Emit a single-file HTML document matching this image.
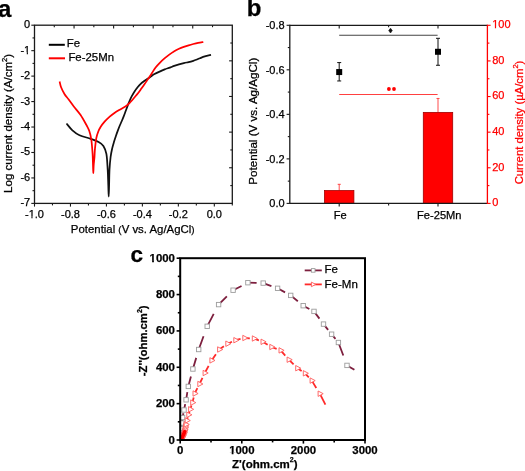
<!DOCTYPE html>
<html><head><meta charset="utf-8"><style>
html,body{margin:0;padding:0;background:#fff;}
body{width:525px;height:471px;overflow:hidden;}
svg{display:block;font-family:"Liberation Sans", sans-serif;will-change:transform;}
text{stroke-width:0.25px;}
</style></head><body>
<svg width="525" height="471" viewBox="0 0 525 471">
<rect width="525" height="471" fill="#fff"/>
<text x="-2.00" y="16.60" font-size="24" text-anchor="start" fill="#000" stroke="#000" font-weight="bold" >a</text>
<text x="246.80" y="16.40" font-size="24" text-anchor="start" fill="#000" stroke="#000" font-weight="bold" >b</text>
<text x="130.40" y="262.40" font-size="22.5" text-anchor="start" fill="#000" stroke="#000" font-weight="bold" >c</text>
<rect x="34.50" y="25.20" width="197.80" height="178.20" fill="none" stroke="#1a1a1a" stroke-width="1.3"/>
<line x1="34.50" y1="203.40" x2="34.50" y2="206.60" stroke="#1a1a1a" stroke-width="1.1" />
<text x="34.50" y="217.80" font-size="11" text-anchor="middle" fill="#000" stroke="#000" font-weight="normal" >-1.0</text>
<rect x="28.62" y="216.53" width="2.73" height="2.67" fill="#fff"/>
<rect x="32.57" y="216.53" width="2.64" height="2.67" fill="#fff"/>
<line x1="52.48" y1="203.40" x2="52.48" y2="205.40" stroke="#1a1a1a" stroke-width="1.1" />
<line x1="70.46" y1="203.40" x2="70.46" y2="206.60" stroke="#1a1a1a" stroke-width="1.1" />
<text x="70.46" y="217.80" font-size="11" text-anchor="middle" fill="#000" stroke="#000" font-weight="normal" >-0.8</text>
<line x1="88.45" y1="203.40" x2="88.45" y2="205.40" stroke="#1a1a1a" stroke-width="1.1" />
<line x1="106.43" y1="203.40" x2="106.43" y2="206.60" stroke="#1a1a1a" stroke-width="1.1" />
<text x="106.43" y="217.80" font-size="11" text-anchor="middle" fill="#000" stroke="#000" font-weight="normal" >-0.6</text>
<line x1="124.41" y1="203.40" x2="124.41" y2="205.40" stroke="#1a1a1a" stroke-width="1.1" />
<line x1="142.39" y1="203.40" x2="142.39" y2="206.60" stroke="#1a1a1a" stroke-width="1.1" />
<text x="142.39" y="217.80" font-size="11" text-anchor="middle" fill="#000" stroke="#000" font-weight="normal" >-0.4</text>
<line x1="160.37" y1="203.40" x2="160.37" y2="205.40" stroke="#1a1a1a" stroke-width="1.1" />
<line x1="178.35" y1="203.40" x2="178.35" y2="206.60" stroke="#1a1a1a" stroke-width="1.1" />
<text x="178.35" y="217.80" font-size="11" text-anchor="middle" fill="#000" stroke="#000" font-weight="normal" >-0.2</text>
<line x1="196.34" y1="203.40" x2="196.34" y2="205.40" stroke="#1a1a1a" stroke-width="1.1" />
<line x1="214.32" y1="203.40" x2="214.32" y2="206.60" stroke="#1a1a1a" stroke-width="1.1" />
<text x="214.32" y="217.80" font-size="11" text-anchor="middle" fill="#000" stroke="#000" font-weight="normal" >0.0</text>
<line x1="232.30" y1="203.40" x2="232.30" y2="205.40" stroke="#1a1a1a" stroke-width="1.1" />
<line x1="31.30" y1="25.20" x2="34.50" y2="25.20" stroke="#1a1a1a" stroke-width="1.1" />
<text x="30.20" y="28.20" font-size="11" text-anchor="end" fill="#000" stroke="#000" font-weight="normal" >0</text>
<line x1="32.50" y1="37.93" x2="34.50" y2="37.93" stroke="#1a1a1a" stroke-width="1.1" />
<line x1="31.30" y1="50.66" x2="34.50" y2="50.66" stroke="#1a1a1a" stroke-width="1.1" />
<text x="30.20" y="53.66" font-size="11" text-anchor="end" fill="#000" stroke="#000" font-weight="normal" >-1</text>
<rect x="24.02" y="52.39" width="2.73" height="2.67" fill="#fff"/>
<rect x="27.97" y="52.39" width="2.64" height="2.67" fill="#fff"/>
<line x1="32.50" y1="63.39" x2="34.50" y2="63.39" stroke="#1a1a1a" stroke-width="1.1" />
<line x1="31.30" y1="76.11" x2="34.50" y2="76.11" stroke="#1a1a1a" stroke-width="1.1" />
<text x="30.20" y="79.11" font-size="11" text-anchor="end" fill="#000" stroke="#000" font-weight="normal" >-2</text>
<line x1="32.50" y1="88.84" x2="34.50" y2="88.84" stroke="#1a1a1a" stroke-width="1.1" />
<line x1="31.30" y1="101.57" x2="34.50" y2="101.57" stroke="#1a1a1a" stroke-width="1.1" />
<text x="30.20" y="104.57" font-size="11" text-anchor="end" fill="#000" stroke="#000" font-weight="normal" >-3</text>
<line x1="32.50" y1="114.30" x2="34.50" y2="114.30" stroke="#1a1a1a" stroke-width="1.1" />
<line x1="31.30" y1="127.03" x2="34.50" y2="127.03" stroke="#1a1a1a" stroke-width="1.1" />
<text x="30.20" y="130.03" font-size="11" text-anchor="end" fill="#000" stroke="#000" font-weight="normal" >-4</text>
<line x1="32.50" y1="139.76" x2="34.50" y2="139.76" stroke="#1a1a1a" stroke-width="1.1" />
<line x1="31.30" y1="152.49" x2="34.50" y2="152.49" stroke="#1a1a1a" stroke-width="1.1" />
<text x="30.20" y="155.49" font-size="11" text-anchor="end" fill="#000" stroke="#000" font-weight="normal" >-5</text>
<line x1="32.50" y1="165.21" x2="34.50" y2="165.21" stroke="#1a1a1a" stroke-width="1.1" />
<line x1="31.30" y1="177.94" x2="34.50" y2="177.94" stroke="#1a1a1a" stroke-width="1.1" />
<text x="30.20" y="180.94" font-size="11" text-anchor="end" fill="#000" stroke="#000" font-weight="normal" >-6</text>
<line x1="32.50" y1="190.67" x2="34.50" y2="190.67" stroke="#1a1a1a" stroke-width="1.1" />
<line x1="31.30" y1="203.40" x2="34.50" y2="203.40" stroke="#1a1a1a" stroke-width="1.1" />
<text x="30.20" y="206.40" font-size="11" text-anchor="end" fill="#000" stroke="#000" font-weight="normal" >-7</text>
<line x1="54.28" y1="25.20" x2="54.28" y2="27.20" stroke="#1a1a1a" stroke-width="1.1" />
<line x1="230.30" y1="43.02" x2="232.30" y2="43.02" stroke="#1a1a1a" stroke-width="1.1" />
<line x1="74.06" y1="25.20" x2="74.06" y2="28.40" stroke="#1a1a1a" stroke-width="1.1" />
<line x1="229.10" y1="60.84" x2="232.30" y2="60.84" stroke="#1a1a1a" stroke-width="1.1" />
<line x1="93.84" y1="25.20" x2="93.84" y2="27.20" stroke="#1a1a1a" stroke-width="1.1" />
<line x1="230.30" y1="78.66" x2="232.30" y2="78.66" stroke="#1a1a1a" stroke-width="1.1" />
<line x1="113.62" y1="25.20" x2="113.62" y2="28.40" stroke="#1a1a1a" stroke-width="1.1" />
<line x1="229.10" y1="96.48" x2="232.30" y2="96.48" stroke="#1a1a1a" stroke-width="1.1" />
<line x1="133.40" y1="25.20" x2="133.40" y2="27.20" stroke="#1a1a1a" stroke-width="1.1" />
<line x1="230.30" y1="114.30" x2="232.30" y2="114.30" stroke="#1a1a1a" stroke-width="1.1" />
<line x1="153.18" y1="25.20" x2="153.18" y2="28.40" stroke="#1a1a1a" stroke-width="1.1" />
<line x1="229.10" y1="132.12" x2="232.30" y2="132.12" stroke="#1a1a1a" stroke-width="1.1" />
<line x1="172.96" y1="25.20" x2="172.96" y2="27.20" stroke="#1a1a1a" stroke-width="1.1" />
<line x1="230.30" y1="149.94" x2="232.30" y2="149.94" stroke="#1a1a1a" stroke-width="1.1" />
<line x1="192.74" y1="25.20" x2="192.74" y2="28.40" stroke="#1a1a1a" stroke-width="1.1" />
<line x1="229.10" y1="167.76" x2="232.30" y2="167.76" stroke="#1a1a1a" stroke-width="1.1" />
<line x1="212.52" y1="25.20" x2="212.52" y2="27.20" stroke="#1a1a1a" stroke-width="1.1" />
<line x1="230.30" y1="185.58" x2="232.30" y2="185.58" stroke="#1a1a1a" stroke-width="1.1" />
<text x="132.70" y="233.20" font-size="11.4" text-anchor="middle" fill="#000" stroke="#000" font-weight="normal" >Potential <tspan font-size="9.8">(</tspan>V vs. Ag/AgCl<tspan font-size="9.8">)</tspan></text>
<text transform="translate(12.0,123.4) rotate(-90)" font-size="11.5" text-anchor="middle" fill="#000" stroke="#000">Log current density (A/cm<tspan dy="-5" font-size="7.5">2</tspan><tspan dy="5">)</tspan></text>
<line x1="48.80" y1="44.80" x2="64.80" y2="44.80" stroke="#000" stroke-width="2.0" />
<text x="66.80" y="46.80" font-size="11.4" text-anchor="start" fill="#000" stroke="#000" font-weight="normal" >Fe</text>
<line x1="48.80" y1="58.30" x2="65.00" y2="58.30" stroke="#ff0000" stroke-width="2.0" />
<text x="68.40" y="60.50" font-size="11.4" text-anchor="start" fill="#000" stroke="#000" font-weight="normal" >Fe-25Mn</text>
<path d="M66.50,123.50 C67.48,124.63 70.23,128.35 72.40,130.30 C74.57,132.25 76.45,133.78 79.50,135.20 C82.55,136.62 87.52,137.68 90.70,138.80 C93.88,139.92 96.48,140.72 98.60,141.90 C100.72,143.08 102.10,143.90 103.40,145.90 C104.70,147.90 105.68,149.92 106.40,153.90 C107.12,157.88 107.38,164.62 107.70,169.80 C108.02,174.98 108.13,180.55 108.30,185.00 C108.47,189.45 108.57,196.50 108.70,196.50 C108.83,196.50 108.97,189.45 109.10,185.00 C109.23,180.55 109.25,174.47 109.50,169.80 C109.75,165.13 110.15,160.57 110.60,157.00 C111.05,153.43 111.62,150.98 112.20,148.40 C112.78,145.82 113.47,143.62 114.10,141.50 C114.73,139.38 115.37,137.55 116.00,135.70 C116.63,133.85 117.27,132.10 117.90,130.40 C118.53,128.70 119.15,127.07 119.80,125.50 C120.45,123.93 121.15,122.52 121.80,121.00 C122.45,119.48 123.07,118.02 123.70,116.40 C124.33,114.78 124.97,113.00 125.60,111.30 C126.23,109.60 126.87,107.87 127.50,106.20 C128.13,104.53 128.68,102.97 129.40,101.30 C130.12,99.63 130.97,97.80 131.80,96.20 C132.63,94.60 133.43,93.18 134.40,91.70 C135.37,90.22 136.55,88.62 137.60,87.30 C138.65,85.98 139.65,84.82 140.70,83.80 C141.75,82.78 142.83,82.00 143.90,81.20 C144.97,80.40 146.10,79.67 147.10,79.00 C148.10,78.33 148.67,78.02 149.90,77.20 C151.13,76.38 152.88,75.03 154.50,74.10 C156.12,73.17 157.90,72.38 159.60,71.60 C161.30,70.82 163.00,70.07 164.70,69.40 C166.40,68.73 168.08,68.22 169.80,67.60 C171.52,66.98 172.67,66.43 175.00,65.70 C177.33,64.97 181.53,63.80 183.80,63.20 C186.07,62.60 187.02,62.50 188.60,62.10 C190.18,61.70 192.03,61.18 193.30,60.80 C194.57,60.42 195.08,60.23 196.20,59.80 C197.32,59.37 198.57,58.77 200.00,58.20 C201.43,57.63 202.97,56.95 204.80,56.40 C206.63,55.85 209.97,55.15 211.00,54.90" fill="none" stroke="#111" stroke-width="1.75" stroke-linejoin="round"/>
<path d="M59.60,81.50 C59.85,82.45 60.27,85.08 61.10,87.20 C61.93,89.32 63.37,92.18 64.60,94.20 C65.83,96.22 66.97,97.25 68.50,99.30 C70.03,101.35 71.78,103.88 73.80,106.50 C75.82,109.12 78.48,111.88 80.60,115.00 C82.72,118.12 85.05,122.53 86.50,125.20 C87.95,127.87 88.50,128.62 89.30,131.00 C90.10,133.38 90.75,135.68 91.30,139.50 C91.85,143.32 92.32,149.65 92.60,153.90 C92.88,158.15 92.88,161.78 93.00,165.00 C93.12,168.22 93.18,173.20 93.30,173.20 C93.42,173.20 93.52,167.53 93.70,165.00 C93.88,162.47 94.18,160.77 94.40,158.00 C94.62,155.23 94.68,151.70 95.00,148.40 C95.32,145.10 95.77,140.97 96.30,138.20 C96.83,135.43 97.47,133.70 98.20,131.80 C98.93,129.90 99.63,128.48 100.70,126.80 C101.77,125.12 103.10,123.40 104.60,121.70 C106.10,120.00 108.00,118.10 109.70,116.60 C111.40,115.10 112.90,113.98 114.80,112.70 C116.70,111.42 119.10,110.10 121.10,108.90 C123.10,107.70 125.23,106.65 126.80,105.50 C128.37,104.35 129.23,103.33 130.50,102.00 C131.77,100.67 133.12,99.00 134.40,97.50 C135.68,96.00 137.03,94.48 138.20,93.00 C139.37,91.52 140.33,90.08 141.40,88.60 C142.47,87.12 143.65,85.48 144.60,84.10 C145.55,82.72 146.25,81.57 147.10,80.30 C147.95,79.03 148.88,77.72 149.70,76.50 C150.52,75.28 151.05,74.47 152.00,73.00 C152.95,71.53 154.10,69.40 155.40,67.70 C156.70,66.00 158.23,64.38 159.80,62.80 C161.37,61.22 163.17,59.60 164.80,58.20 C166.43,56.80 168.02,55.57 169.60,54.40 C171.18,53.23 172.73,52.13 174.30,51.20 C175.87,50.27 177.42,49.52 179.00,48.80 C180.58,48.08 182.20,47.48 183.80,46.90 C185.40,46.32 187.02,45.78 188.60,45.30 C190.18,44.82 191.72,44.40 193.30,44.00 C194.88,43.60 196.43,43.22 198.10,42.90 C199.77,42.58 202.43,42.23 203.30,42.10" fill="none" stroke="#ff0000" stroke-width="1.75" stroke-linejoin="round"/>
<line x1="339.20" y1="184.34" x2="339.20" y2="190.58" stroke="#ff4d4d" stroke-width="1.0" />
<line x1="337.70" y1="184.34" x2="340.70" y2="184.34" stroke="#ff4d4d" stroke-width="1.1" />
<rect x="324.50" y="190.58" width="29.40" height="12.82" fill="#ff0000" stroke="#a00000" stroke-width="0.8"/>
<line x1="438.00" y1="98.50" x2="438.00" y2="112.39" stroke="#ff4d4d" stroke-width="1.0" />
<line x1="436.50" y1="98.50" x2="439.50" y2="98.50" stroke="#ff4d4d" stroke-width="1.1" />
<rect x="423.30" y="112.39" width="29.40" height="91.01" fill="#ff0000" stroke="#a00000" stroke-width="0.8"/>
<line x1="289.80" y1="25.30" x2="487.40" y2="25.30" stroke="#1a1a1a" stroke-width="1.3" />
<line x1="289.80" y1="203.40" x2="487.40" y2="203.40" stroke="#1a1a1a" stroke-width="1.3" />
<line x1="289.80" y1="24.70" x2="289.80" y2="204.00" stroke="#1a1a1a" stroke-width="1.3" />
<line x1="487.40" y1="24.70" x2="487.40" y2="204.00" stroke="#ff0000" stroke-width="1.3" />
<line x1="286.60" y1="203.40" x2="289.80" y2="203.40" stroke="#1a1a1a" stroke-width="1.1" />
<text x="284.60" y="207.30" font-size="11" text-anchor="end" fill="#000" stroke="#000" font-weight="normal" >0.0</text>
<line x1="287.80" y1="181.14" x2="289.80" y2="181.14" stroke="#1a1a1a" stroke-width="1.1" />
<line x1="286.60" y1="158.88" x2="289.80" y2="158.88" stroke="#1a1a1a" stroke-width="1.1" />
<text x="284.60" y="162.78" font-size="11" text-anchor="end" fill="#000" stroke="#000" font-weight="normal" >-0.2</text>
<line x1="287.80" y1="136.61" x2="289.80" y2="136.61" stroke="#1a1a1a" stroke-width="1.1" />
<line x1="286.60" y1="114.35" x2="289.80" y2="114.35" stroke="#1a1a1a" stroke-width="1.1" />
<text x="284.60" y="118.25" font-size="11" text-anchor="end" fill="#000" stroke="#000" font-weight="normal" >-0.4</text>
<line x1="287.80" y1="92.09" x2="289.80" y2="92.09" stroke="#1a1a1a" stroke-width="1.1" />
<line x1="286.60" y1="69.82" x2="289.80" y2="69.82" stroke="#1a1a1a" stroke-width="1.1" />
<text x="284.60" y="73.72" font-size="11" text-anchor="end" fill="#000" stroke="#000" font-weight="normal" >-0.6</text>
<line x1="287.80" y1="47.56" x2="289.80" y2="47.56" stroke="#1a1a1a" stroke-width="1.1" />
<line x1="286.60" y1="25.30" x2="289.80" y2="25.30" stroke="#1a1a1a" stroke-width="1.1" />
<text x="284.60" y="29.20" font-size="11" text-anchor="end" fill="#000" stroke="#000" font-weight="normal" >-0.8</text>
<line x1="487.40" y1="203.40" x2="490.60" y2="203.40" stroke="#ff0000" stroke-width="1.1" />
<text x="492.20" y="206.30" font-size="11" text-anchor="start" fill="#ff0000" stroke="#ff0000" font-weight="normal" >0</text>
<line x1="487.40" y1="185.59" x2="489.40" y2="185.59" stroke="#ff0000" stroke-width="1.1" />
<line x1="487.40" y1="167.78" x2="490.60" y2="167.78" stroke="#ff0000" stroke-width="1.1" />
<text x="492.20" y="170.68" font-size="11" text-anchor="start" fill="#ff0000" stroke="#ff0000" font-weight="normal" >20</text>
<line x1="487.40" y1="149.97" x2="489.40" y2="149.97" stroke="#ff0000" stroke-width="1.1" />
<line x1="487.40" y1="132.16" x2="490.60" y2="132.16" stroke="#ff0000" stroke-width="1.1" />
<text x="492.20" y="135.06" font-size="11" text-anchor="start" fill="#ff0000" stroke="#ff0000" font-weight="normal" >40</text>
<line x1="487.40" y1="114.35" x2="489.40" y2="114.35" stroke="#ff0000" stroke-width="1.1" />
<line x1="487.40" y1="96.54" x2="490.60" y2="96.54" stroke="#ff0000" stroke-width="1.1" />
<text x="492.20" y="99.44" font-size="11" text-anchor="start" fill="#ff0000" stroke="#ff0000" font-weight="normal" >60</text>
<line x1="487.40" y1="78.73" x2="489.40" y2="78.73" stroke="#ff0000" stroke-width="1.1" />
<line x1="487.40" y1="60.92" x2="490.60" y2="60.92" stroke="#ff0000" stroke-width="1.1" />
<text x="492.20" y="63.82" font-size="11" text-anchor="start" fill="#ff0000" stroke="#ff0000" font-weight="normal" >80</text>
<line x1="487.40" y1="43.11" x2="489.40" y2="43.11" stroke="#ff0000" stroke-width="1.1" />
<line x1="487.40" y1="25.30" x2="490.60" y2="25.30" stroke="#ff0000" stroke-width="1.1" />
<text x="492.20" y="28.20" font-size="11" text-anchor="start" fill="#ff0000" stroke="#ff0000" font-weight="normal" >100</text>
<rect x="492.14" y="26.93" width="2.73" height="2.67" fill="#fff"/>
<rect x="496.09" y="26.93" width="2.64" height="2.67" fill="#fff"/>
<line x1="339.20" y1="203.40" x2="339.20" y2="206.60" stroke="#1a1a1a" stroke-width="1.1" />
<line x1="339.20" y1="25.30" x2="339.20" y2="28.50" stroke="#1a1a1a" stroke-width="1.1" />
<line x1="388.60" y1="203.40" x2="388.60" y2="205.40" stroke="#1a1a1a" stroke-width="1.1" />
<line x1="388.60" y1="25.30" x2="388.60" y2="27.30" stroke="#1a1a1a" stroke-width="1.1" />
<line x1="438.00" y1="203.40" x2="438.00" y2="206.60" stroke="#1a1a1a" stroke-width="1.1" />
<line x1="438.00" y1="25.30" x2="438.00" y2="28.50" stroke="#1a1a1a" stroke-width="1.1" />
<text x="340.20" y="219.40" font-size="11.1" text-anchor="middle" fill="#000" stroke="#000" font-weight="normal" >Fe</text>
<text x="439.30" y="219.40" font-size="11.1" text-anchor="middle" fill="#000" stroke="#000" font-weight="normal" >Fe-25Mn</text>
<line x1="339.20" y1="62.59" x2="339.20" y2="80.96" stroke="#111" stroke-width="1.0" />
<line x1="337.20" y1="62.59" x2="341.20" y2="62.59" stroke="#111" stroke-width="1.0" />
<line x1="337.20" y1="80.96" x2="341.20" y2="80.96" stroke="#111" stroke-width="1.0" />
<rect x="336.20" y="69.05" width="6" height="6" fill="#000"/>
<line x1="438.00" y1="38.30" x2="438.00" y2="65.28" stroke="#111" stroke-width="1.0" />
<line x1="436.00" y1="38.30" x2="440.00" y2="38.30" stroke="#111" stroke-width="1.0" />
<line x1="436.00" y1="65.28" x2="440.00" y2="65.28" stroke="#111" stroke-width="1.0" />
<rect x="435.00" y="48.79" width="6" height="6" fill="#000"/>
<line x1="339.20" y1="35.30" x2="437.60" y2="35.30" stroke="#444" stroke-width="1.1" />
<path d="M390.5,28.2 L392.3,30.6 L390.5,33.0 L388.7,30.6 Z" fill="#111" stroke="#111" stroke-width="0.6" stroke-linejoin="round"/>
<line x1="339.20" y1="94.50" x2="437.60" y2="94.50" stroke="#ff4040" stroke-width="1.1" />
<circle cx="388.9" cy="89.0" r="1.9" fill="#ff0000"/>
<circle cx="394.0" cy="89.0" r="1.9" fill="#ff0000"/>
<text transform="translate(256.8,121.2) rotate(-90)" font-size="11.6" text-anchor="middle" fill="#000" stroke="#000">Potential (V vs. Ag/AgCl)</text>
<text transform="translate(523.0,122.5) rotate(-90)" font-size="11.3" text-anchor="middle" fill="#ff0000" stroke="#ff0000">Current density (&#181;A/cm<tspan dy="-5" font-size="7.5">2</tspan><tspan dy="5">)</tspan></text>
<defs><clipPath id="cclip"><rect x="180.20" y="258.20" width="184.80" height="181.80"/></clipPath></defs><g clip-path="url(#cclip)">
<path d="M180.20,439.50 L180.31,438.36 M180.40,437.50 L180.51,436.07 M180.60,435.00 L180.77,433.29 M180.90,432.00 L181.13,430.00 M181.30,428.50 L181.59,425.37 M181.80,423.00 L182.26,419.87 M182.60,417.50 L183.40,413.23 M184.00,410.00 L185.20,404.19 M186.10,399.80 L187.35,392.16 M188.30,386.40 L190.92,376.48 M192.90,369.00 L196.21,357.88 M198.70,349.50 L203.54,336.28 M207.20,326.30 L213.70,313.93 M218.60,304.60 L226.86,296.39 M233.10,290.20 L241.54,285.93 M247.90,282.70 L256.62,282.93 M263.20,283.10 L271.41,286.06 M277.60,288.30 L285.07,292.35 M290.70,295.40 L297.82,301.27 M303.20,305.70 L309.36,308.95 M314.00,311.40 L319.42,318.64 M323.50,324.10 L328.12,329.86 M331.60,334.20 L335.48,338.93 M338.40,342.50 L343.30,355.55 M347.00,365.40 L354.40,369.80 " fill="none" stroke="#7d1f3e" stroke-width="1.8" stroke-linecap="butt"/>
<rect x="178.00" y="437.30" width="4.4" height="4.4" fill="#fff" stroke="#9c9c9c" stroke-width="0.9"/>
<rect x="178.20" y="435.30" width="4.4" height="4.4" fill="#fff" stroke="#9c9c9c" stroke-width="0.9"/>
<rect x="178.40" y="432.80" width="4.4" height="4.4" fill="#fff" stroke="#9c9c9c" stroke-width="0.9"/>
<rect x="178.70" y="429.80" width="4.4" height="4.4" fill="#fff" stroke="#9c9c9c" stroke-width="0.9"/>
<rect x="179.10" y="426.30" width="4.4" height="4.4" fill="#fff" stroke="#9c9c9c" stroke-width="0.9"/>
<rect x="179.60" y="420.80" width="4.4" height="4.4" fill="#fff" stroke="#9c9c9c" stroke-width="0.9"/>
<rect x="180.40" y="415.30" width="4.4" height="4.4" fill="#fff" stroke="#9c9c9c" stroke-width="0.9"/>
<rect x="181.80" y="407.80" width="4.4" height="4.4" fill="#fff" stroke="#9c9c9c" stroke-width="0.9"/>
<rect x="183.90" y="397.60" width="4.4" height="4.4" fill="#fff" stroke="#9c9c9c" stroke-width="0.9"/>
<rect x="186.10" y="384.20" width="4.4" height="4.4" fill="#fff" stroke="#9c9c9c" stroke-width="0.9"/>
<rect x="190.70" y="366.80" width="4.4" height="4.4" fill="#fff" stroke="#9c9c9c" stroke-width="0.9"/>
<rect x="196.50" y="347.30" width="4.4" height="4.4" fill="#fff" stroke="#9c9c9c" stroke-width="0.9"/>
<rect x="205.00" y="324.10" width="4.4" height="4.4" fill="#fff" stroke="#9c9c9c" stroke-width="0.9"/>
<rect x="216.40" y="302.40" width="4.4" height="4.4" fill="#fff" stroke="#9c9c9c" stroke-width="0.9"/>
<rect x="230.90" y="288.00" width="4.4" height="4.4" fill="#fff" stroke="#9c9c9c" stroke-width="0.9"/>
<rect x="245.70" y="280.50" width="4.4" height="4.4" fill="#fff" stroke="#9c9c9c" stroke-width="0.9"/>
<rect x="261.00" y="280.90" width="4.4" height="4.4" fill="#fff" stroke="#9c9c9c" stroke-width="0.9"/>
<rect x="275.40" y="286.10" width="4.4" height="4.4" fill="#fff" stroke="#9c9c9c" stroke-width="0.9"/>
<rect x="288.50" y="293.20" width="4.4" height="4.4" fill="#fff" stroke="#9c9c9c" stroke-width="0.9"/>
<rect x="301.00" y="303.50" width="4.4" height="4.4" fill="#fff" stroke="#9c9c9c" stroke-width="0.9"/>
<rect x="311.80" y="309.20" width="4.4" height="4.4" fill="#fff" stroke="#9c9c9c" stroke-width="0.9"/>
<rect x="321.30" y="321.90" width="4.4" height="4.4" fill="#fff" stroke="#9c9c9c" stroke-width="0.9"/>
<rect x="329.40" y="332.00" width="4.4" height="4.4" fill="#fff" stroke="#9c9c9c" stroke-width="0.9"/>
<rect x="336.20" y="340.30" width="4.4" height="4.4" fill="#fff" stroke="#9c9c9c" stroke-width="0.9"/>
<rect x="344.80" y="363.20" width="4.4" height="4.4" fill="#fff" stroke="#9c9c9c" stroke-width="0.9"/>
<path d="M180.60,440.00 L180.82,439.55 M181.00,439.20 L181.28,438.70 M181.50,438.30 L181.78,437.74 M182.00,437.30 L182.34,436.68 M182.60,436.20 L182.94,435.53 M183.20,435.00 L183.48,434.27 M183.70,433.70 L183.92,432.92 M184.10,432.30 L184.32,431.46 M184.50,430.80 L184.67,429.96 M184.80,429.30 L184.97,428.35 M185.10,427.60 L185.27,426.70 M185.40,426.00 L185.68,425.10 M185.90,424.40 L186.46,422.22 M186.90,420.50 L187.80,417.31 M188.50,414.80 L189.51,411.72 M190.30,409.30 L191.48,405.55 M192.40,402.60 L193.69,397.50 M194.70,393.50 L197.39,388.18 M199.50,384.00 L202.47,377.84 M204.80,373.00 L208.61,365.94 M211.60,360.40 L215.91,354.30 M219.30,349.50 L223.89,346.25 M227.50,343.70 L231.98,341.74 M235.50,340.20 L240.54,338.97 M244.50,338.00 L249.82,338.28 M254.00,338.50 L258.87,340.35 M262.70,341.80 L267.63,344.71 M271.50,347.00 L276.65,348.90 M280.70,350.40 L285.24,355.61 M288.80,359.70 L293.62,364.46 M297.40,368.20 L301.66,371.06 M305.00,373.30 L308.81,377.39 M311.80,380.60 L316.28,387.94 M319.80,393.70 L325.40,404.70 " fill="none" stroke="#ff2a2a" stroke-width="1.8" stroke-linecap="butt"/>
<path d="M178.90,437.30 L184.00,440.00 L178.90,442.70 Z" fill="#fff" stroke="#ff5a5a" stroke-width="0.9" stroke-linejoin="miter"/>
<path d="M179.30,436.50 L184.40,439.20 L179.30,441.90 Z" fill="#fff" stroke="#ff5a5a" stroke-width="0.9" stroke-linejoin="miter"/>
<path d="M179.80,435.60 L184.90,438.30 L179.80,441.00 Z" fill="#fff" stroke="#ff5a5a" stroke-width="0.9" stroke-linejoin="miter"/>
<path d="M180.30,434.60 L185.40,437.30 L180.30,440.00 Z" fill="#fff" stroke="#ff5a5a" stroke-width="0.9" stroke-linejoin="miter"/>
<path d="M180.90,433.50 L186.00,436.20 L180.90,438.90 Z" fill="#fff" stroke="#ff5a5a" stroke-width="0.9" stroke-linejoin="miter"/>
<path d="M181.50,432.30 L186.60,435.00 L181.50,437.70 Z" fill="#fff" stroke="#ff5a5a" stroke-width="0.9" stroke-linejoin="miter"/>
<path d="M182.00,431.00 L187.10,433.70 L182.00,436.40 Z" fill="#fff" stroke="#ff5a5a" stroke-width="0.9" stroke-linejoin="miter"/>
<path d="M182.40,429.60 L187.50,432.30 L182.40,435.00 Z" fill="#fff" stroke="#ff5a5a" stroke-width="0.9" stroke-linejoin="miter"/>
<path d="M182.80,428.10 L187.90,430.80 L182.80,433.50 Z" fill="#fff" stroke="#ff5a5a" stroke-width="0.9" stroke-linejoin="miter"/>
<path d="M183.10,426.60 L188.20,429.30 L183.10,432.00 Z" fill="#fff" stroke="#ff5a5a" stroke-width="0.9" stroke-linejoin="miter"/>
<path d="M183.40,424.90 L188.50,427.60 L183.40,430.30 Z" fill="#fff" stroke="#ff5a5a" stroke-width="0.9" stroke-linejoin="miter"/>
<path d="M183.70,423.30 L188.80,426.00 L183.70,428.70 Z" fill="#fff" stroke="#ff5a5a" stroke-width="0.9" stroke-linejoin="miter"/>
<path d="M184.20,421.70 L189.30,424.40 L184.20,427.10 Z" fill="#fff" stroke="#ff5a5a" stroke-width="0.9" stroke-linejoin="miter"/>
<path d="M185.20,417.80 L190.30,420.50 L185.20,423.20 Z" fill="#fff" stroke="#ff5a5a" stroke-width="0.9" stroke-linejoin="miter"/>
<path d="M186.80,412.10 L191.90,414.80 L186.80,417.50 Z" fill="#fff" stroke="#ff5a5a" stroke-width="0.9" stroke-linejoin="miter"/>
<path d="M188.60,406.60 L193.70,409.30 L188.60,412.00 Z" fill="#fff" stroke="#ff5a5a" stroke-width="0.9" stroke-linejoin="miter"/>
<path d="M190.70,399.90 L195.80,402.60 L190.70,405.30 Z" fill="#fff" stroke="#ff5a5a" stroke-width="0.9" stroke-linejoin="miter"/>
<path d="M193.00,390.80 L198.10,393.50 L193.00,396.20 Z" fill="#fff" stroke="#ff5a5a" stroke-width="0.9" stroke-linejoin="miter"/>
<path d="M197.80,381.30 L202.90,384.00 L197.80,386.70 Z" fill="#fff" stroke="#ff5a5a" stroke-width="0.9" stroke-linejoin="miter"/>
<path d="M203.10,370.30 L208.20,373.00 L203.10,375.70 Z" fill="#fff" stroke="#ff5a5a" stroke-width="0.9" stroke-linejoin="miter"/>
<path d="M209.90,357.70 L215.00,360.40 L209.90,363.10 Z" fill="#fff" stroke="#ff5a5a" stroke-width="0.9" stroke-linejoin="miter"/>
<path d="M217.60,346.80 L222.70,349.50 L217.60,352.20 Z" fill="#fff" stroke="#ff5a5a" stroke-width="0.9" stroke-linejoin="miter"/>
<path d="M225.80,341.00 L230.90,343.70 L225.80,346.40 Z" fill="#fff" stroke="#ff5a5a" stroke-width="0.9" stroke-linejoin="miter"/>
<path d="M233.80,337.50 L238.90,340.20 L233.80,342.90 Z" fill="#fff" stroke="#ff5a5a" stroke-width="0.9" stroke-linejoin="miter"/>
<path d="M242.80,335.30 L247.90,338.00 L242.80,340.70 Z" fill="#fff" stroke="#ff5a5a" stroke-width="0.9" stroke-linejoin="miter"/>
<path d="M252.30,335.80 L257.40,338.50 L252.30,341.20 Z" fill="#fff" stroke="#ff5a5a" stroke-width="0.9" stroke-linejoin="miter"/>
<path d="M261.00,339.10 L266.10,341.80 L261.00,344.50 Z" fill="#fff" stroke="#ff5a5a" stroke-width="0.9" stroke-linejoin="miter"/>
<path d="M269.80,344.30 L274.90,347.00 L269.80,349.70 Z" fill="#fff" stroke="#ff5a5a" stroke-width="0.9" stroke-linejoin="miter"/>
<path d="M279.00,347.70 L284.10,350.40 L279.00,353.10 Z" fill="#fff" stroke="#ff5a5a" stroke-width="0.9" stroke-linejoin="miter"/>
<path d="M287.10,357.00 L292.20,359.70 L287.10,362.40 Z" fill="#fff" stroke="#ff5a5a" stroke-width="0.9" stroke-linejoin="miter"/>
<path d="M295.70,365.50 L300.80,368.20 L295.70,370.90 Z" fill="#fff" stroke="#ff5a5a" stroke-width="0.9" stroke-linejoin="miter"/>
<path d="M303.30,370.60 L308.40,373.30 L303.30,376.00 Z" fill="#fff" stroke="#ff5a5a" stroke-width="0.9" stroke-linejoin="miter"/>
<path d="M310.10,377.90 L315.20,380.60 L310.10,383.30 Z" fill="#fff" stroke="#ff5a5a" stroke-width="0.9" stroke-linejoin="miter"/>
<path d="M318.10,391.00 L323.20,393.70 L318.10,396.40 Z" fill="#fff" stroke="#ff5a5a" stroke-width="0.9" stroke-linejoin="miter"/>
<path d="M181.4,440.5 L182.2,437.5 L183.6,434.6 L184.6,431.8" fill="none" stroke="#ff0000" stroke-width="3.6" stroke-linecap="round"/>
</g>
<rect x="180.20" y="258.20" width="184.80" height="181.80" fill="none" stroke="#000" stroke-width="2.0"/>
<line x1="180.20" y1="440.00" x2="180.20" y2="443.60" stroke="#000" stroke-width="1.6" />
<text x="180.20" y="454.00" font-size="11.4" text-anchor="middle" fill="#000" stroke="#000" font-weight="bold" >0</text>
<line x1="211.00" y1="440.00" x2="211.00" y2="442.40" stroke="#000" stroke-width="1.6" />
<line x1="241.80" y1="440.00" x2="241.80" y2="443.60" stroke="#000" stroke-width="1.6" />
<text x="241.80" y="454.00" font-size="11.4" text-anchor="middle" fill="#000" stroke="#000" font-weight="bold" >1000</text>
<rect x="228.94" y="452.39" width="2.74" height="3.01" fill="#fff"/>
<rect x="233.49" y="452.39" width="2.60" height="3.01" fill="#fff"/>
<line x1="272.60" y1="440.00" x2="272.60" y2="442.40" stroke="#000" stroke-width="1.6" />
<line x1="303.40" y1="440.00" x2="303.40" y2="443.60" stroke="#000" stroke-width="1.6" />
<text x="303.40" y="454.00" font-size="11.4" text-anchor="middle" fill="#000" stroke="#000" font-weight="bold" >2000</text>
<line x1="334.20" y1="440.00" x2="334.20" y2="442.40" stroke="#000" stroke-width="1.6" />
<line x1="365.00" y1="440.00" x2="365.00" y2="443.60" stroke="#000" stroke-width="1.6" />
<text x="365.00" y="454.00" font-size="11.4" text-anchor="middle" fill="#000" stroke="#000" font-weight="bold" >3000</text>
<line x1="176.60" y1="440.00" x2="180.20" y2="440.00" stroke="#000" stroke-width="1.6" />
<text x="174.90" y="443.50" font-size="11.4" text-anchor="end" fill="#000" stroke="#000" font-weight="bold" >0</text>
<line x1="177.80" y1="421.82" x2="180.20" y2="421.82" stroke="#000" stroke-width="1.6" />
<line x1="176.60" y1="403.64" x2="180.20" y2="403.64" stroke="#000" stroke-width="1.6" />
<text x="174.90" y="407.14" font-size="11.4" text-anchor="end" fill="#000" stroke="#000" font-weight="bold" >200</text>
<line x1="177.80" y1="385.46" x2="180.20" y2="385.46" stroke="#000" stroke-width="1.6" />
<line x1="176.60" y1="367.28" x2="180.20" y2="367.28" stroke="#000" stroke-width="1.6" />
<text x="174.90" y="370.78" font-size="11.4" text-anchor="end" fill="#000" stroke="#000" font-weight="bold" >400</text>
<line x1="177.80" y1="349.10" x2="180.20" y2="349.10" stroke="#000" stroke-width="1.6" />
<line x1="176.60" y1="330.92" x2="180.20" y2="330.92" stroke="#000" stroke-width="1.6" />
<text x="174.90" y="334.42" font-size="11.4" text-anchor="end" fill="#000" stroke="#000" font-weight="bold" >600</text>
<line x1="177.80" y1="312.74" x2="180.20" y2="312.74" stroke="#000" stroke-width="1.6" />
<line x1="176.60" y1="294.56" x2="180.20" y2="294.56" stroke="#000" stroke-width="1.6" />
<text x="174.90" y="298.06" font-size="11.4" text-anchor="end" fill="#000" stroke="#000" font-weight="bold" >800</text>
<line x1="177.80" y1="276.38" x2="180.20" y2="276.38" stroke="#000" stroke-width="1.6" />
<line x1="176.60" y1="258.20" x2="180.20" y2="258.20" stroke="#000" stroke-width="1.6" />
<text x="174.90" y="261.70" font-size="11.4" text-anchor="end" fill="#000" stroke="#000" font-weight="bold" >1000</text>
<rect x="149.36" y="260.09" width="2.74" height="3.01" fill="#fff"/>
<rect x="153.91" y="260.09" width="2.60" height="3.01" fill="#fff"/>
<text x="264.80" y="467.60" font-size="11.5" text-anchor="middle" fill="#000" stroke="#000" font-weight="bold" >Z'(ohm.cm<tspan dy='-5.2' font-size='7'>2</tspan><tspan dy='5.2'>)</tspan></text>
<text transform="translate(147.4,340.8) rotate(-90)" font-size="11.3" text-anchor="middle" font-weight="bold" fill="#000" stroke="#000">-Z''(ohm.cm<tspan dy="-5.2" font-size="7">2</tspan><tspan dy="5.2">)</tspan></text>
<line x1="304.70" y1="270.40" x2="321.80" y2="270.40" stroke="#7d1f3e" stroke-width="1.8" />
<rect x="311.40" y="268.60" width="3.6" height="3.6" fill="#fff" stroke="#9c9c9c" stroke-width="0.9"/>
<text x="324.60" y="273.20" font-size="11.5" text-anchor="start" fill="#000" stroke="#000" font-weight="normal" >Fe</text>
<line x1="304.70" y1="284.40" x2="321.80" y2="284.40" stroke="#ff2a2a" stroke-width="1.8" />
<path d="M311.40,282.10 L315.70,284.40 L311.40,286.70 Z" fill="#fff" stroke="#ff5a5a" stroke-width="0.9" stroke-linejoin="miter"/>
<text x="324.60" y="287.60" font-size="11.5" text-anchor="start" fill="#000" stroke="#000" font-weight="normal" >Fe-Mn</text>
</svg>
</body></html>
